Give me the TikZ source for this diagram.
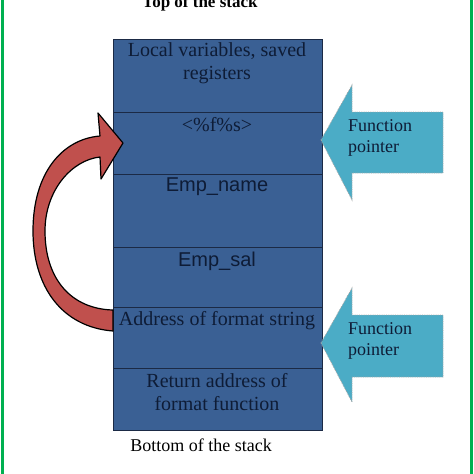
\documentclass[tikz,border=0pt]{standalone}
\usepackage{fontspec}
\setmainfont{Liberation Serif}
\newfontfamily\arialfont{Liberation Sans}
\definecolor{stackblue}{HTML}{3A6094}
\definecolor{stackline}{HTML}{1B2A45}
\definecolor{stacktext}{HTML}{0E1C36}
\definecolor{arrowred}{HTML}{C0504D}
\definecolor{ptrcyan}{HTML}{4BACC6}
\definecolor{framegreen}{HTML}{00B050}
\tikzset{
  stackrow/.style={draw=stackline, fill=stackblue, line width=0.9pt, minimum width=209pt, inner sep=0pt, anchor=north west},
  rowtext/.style={text=stacktext, font=\fontsize{20}{23}\selectfont, align=center, inner sep=0pt},
  ptrtext/.style={text=stacktext, font=\fontsize{18}{21}\selectfont, align=left, inner sep=0pt, anchor=west},
  captext/.style={text=black, font=\fontsize{18}{21}\selectfont, inner sep=0pt},
  ptrarrow/.style={fill=ptrcyan, draw=gray!70, densely dotted, line width=0.8pt},
  curvearrow/.style={fill=arrowred, draw=black, line width=1.2pt, line join=round}
}
\begin{document}
\begin{tikzpicture}[x=1pt,y=-1pt]
\useasboundingbox (0,0) rectangle (474,474);
\clip (0,0) rectangle (474,474);
% frame lines
\draw[framegreen, line width=3pt] (2.5,-5) -- (2.5,480);
\draw[framegreen, line width=3pt] (471.5,-5) -- (471.5,480);
% stack rows
\node[stackrow, minimum height=73pt] (r1) at (113,39) {};
\node[stackrow, minimum height=62pt] (r2) at (113,112) {};
\node[stackrow, minimum height=73pt] (r3) at (113,174) {};
\node[stackrow, minimum height=60pt] (r4) at (113,247) {};
\node[stackrow, minimum height=61pt] (r5) at (113,307) {};
\node[stackrow, minimum height=62pt] (r6) at (113,368) {};
% row texts
\node[rowtext] (t1) at (217,63.5) {Local variables, saved\\registers};
\node[rowtext] (t2) at (217,125) {<\%f\%s>};
\node[rowtext, font=\arialfont\fontsize{20}{23}\selectfont] (t3) at (217,187) {Emp\_name};
\node[rowtext, font=\arialfont\fontsize{20}{23}\selectfont] (t4) at (217,261) {Emp\_sal};
\node[rowtext] (t5) at (217,321) {Address of format string};
\node[rowtext] (t6) at (217,392.5) {Return address of\\format function};
% captions
\node[captext, font=\bfseries\fontsize{17}{20}\selectfont, anchor=base] (top) at (200,7) {Top of the stack};
\node[captext] (bot) at (201,445) {Bottom of the stack};
% function pointer arrows
\coordinate (p1) at (321,140);
\coordinate (p2) at (321,343);
\path[ptrarrow] (p1) -- (352,85) -- (352,112) -- (443,112) -- (443,173) -- (352,173) -- (352,200) -- cycle;
\path[ptrarrow] (p2) -- (352,288) -- (352,315) -- (443,315) -- (443,377) -- (352,377) -- (352,402) -- cycle;
\node[ptrtext] (f1) at (348,137.5) {Function\\pointer};
\node[ptrtext] (f2) at (348,340.5) {Function\\pointer};
% curved red arrow
\coordinate (tailb) at (113,331);
\coordinate (tailt) at (113,310);
\coordinate (tip) at (123,143);
\path[curvearrow] (tailb) .. controls (62,327) and (33,287) .. (33,231)
  .. controls (33,172) and (63,139) .. (100,136)
  -- (98,113) -- (tip) -- (101,179) -- (100,157)
  .. controls (72,160) and (45,190) .. (45,231)
  .. controls (45,280) and (72,309) .. (tailt) -- cycle;
\end{tikzpicture}
\end{document}
